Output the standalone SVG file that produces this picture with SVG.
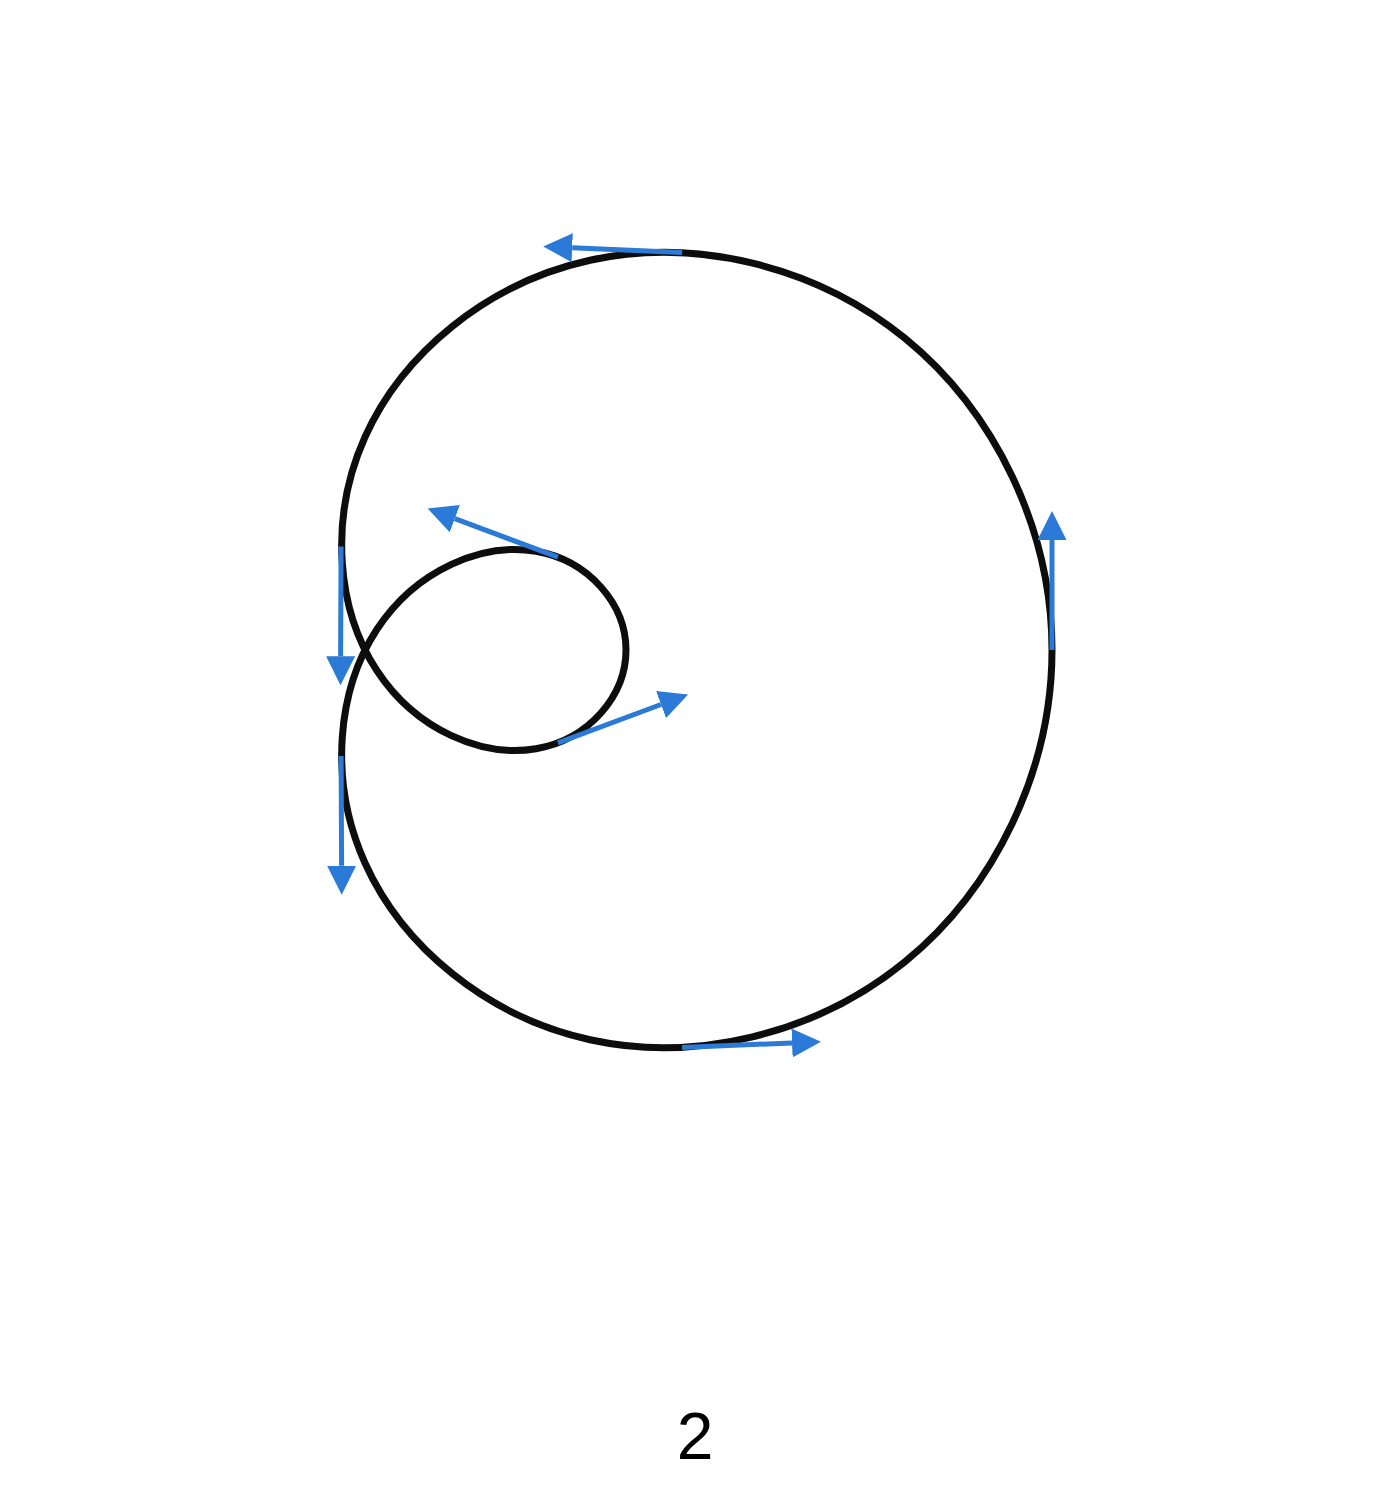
<svg xmlns="http://www.w3.org/2000/svg" width="1393" height="1500" viewBox="0 0 1393 1500">
<style>
.curve{fill:none;stroke:#0d0d0d;stroke-width:7;stroke-linejoin:round}
.vec{stroke:#2b7ad7;stroke-width:5;fill:none;marker-end:url(#head)}
.label{font-family:"Liberation Sans",Arial,sans-serif;font-size:66px;fill:#000;text-anchor:middle}
</style>
<defs>
<marker id="head" markerUnits="userSpaceOnUse" markerWidth="29" markerHeight="29" refX="0" refY="14.5" orient="auto">
<path d="M0,0 L29,14.5 L0,29 Z" fill="#2b7ad7"/>
</marker>
</defs>
<rect width="1393" height="1500" fill="#fff"/>
<g id="limacon">
<path class="curve" d="M1052,650 C1052,530.1 995.19,411.81 904.96,338.25 C814.73,264.69 693.84,237.51 590,260.29 C486.16,283.07 402.18,354.27 365,437 C327.82,519.73 337.55,610.84 377,670.79 C416.45,730.74 482.98,757.92 536.04,748.75 C589.1,739.58 626,695.55 626,650 C626,604.45 589.1,560.42 536.04,551.25 C482.98,542.08 416.45,569.26 377,629.21 C337.55,689.16 327.82,780.27 365,863 C402.18,945.73 486.16,1016.93 590,1039.71 C693.84,1062.49 814.73,1035.31 904.96,961.75 C995.19,888.19 1052,769.9 1052,650 Z"/>
</g>
<g id="tangents">
<line class="vec" x1="1052" y1="650" x2="1052" y2="540"/>
<line class="vec" x1="682.1" y1="252.4" x2="572.2" y2="247.7"/>
<line class="vec" x1="341.1" y1="546.5" x2="340.6" y2="656.2"/>
<line class="vec" x1="557.9" y1="742.9" x2="661.0" y2="704.5"/>
<line class="vec" x1="557.9" y1="557.1" x2="454.8" y2="518.7"/>
<line class="vec" x1="341.1" y1="756" x2="341.6" y2="865.8"/>
<line class="vec" x1="682.1" y1="1047.6" x2="792.0" y2="1042.9"/>
</g>
<text id="caption" class="label" x="695" y="1459">2</text>
</svg>
